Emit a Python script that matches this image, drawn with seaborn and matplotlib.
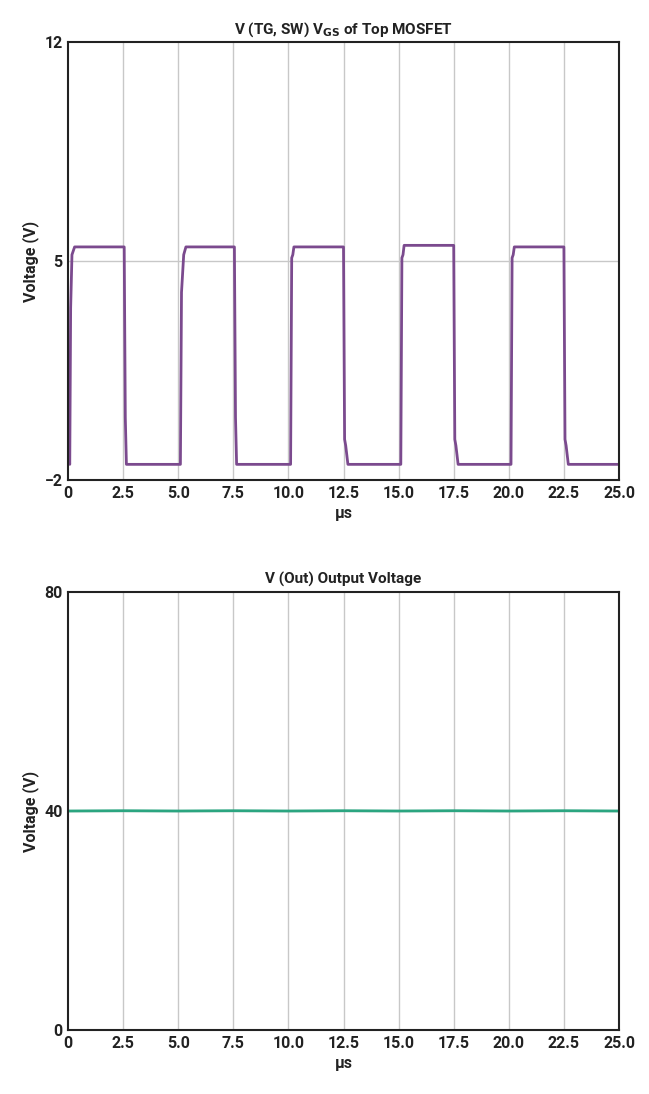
import matplotlib
matplotlib.use("Agg")
import matplotlib.pyplot as plt
import seaborn as sns
import pandas as pd

sns.set_theme(style="white")
plt.rcParams['font.family'] = ['Roboto', 'DejaVu Sans']
plt.rcParams['font.weight'] = 'bold'

tg_time = [0, 0.08, 0.12, 0.18, 0.3, 2.55, 2.6, 2.65, 5.1, 5.15, 5.25, 5.35, 7.55, 7.6, 7.65,
           10.1, 10.15, 10.2, 10.25, 12.5, 12.55, 12.6, 12.7, 15.1, 15.15, 15.2, 15.25, 17.5, 17.55, 17.6, 17.7,
           20.1, 20.15, 20.2, 20.25, 22.5, 22.55, 22.6, 22.7, 25.0]
tg_volt = [-1.2, -1.5, 3.5, 5.2, 5.45, 5.45, 0.0, -1.5, -1.5, 4.0, 5.2, 5.45, 5.45, 0.0, -1.5,
           -1.5, 5.1, 5.2, 5.45, 5.45, -0.7, -0.9, -1.5, -1.5, 5.1, 5.2, 5.5, 5.5, -0.7, -0.9, -1.5,
           -1.5, 5.1, 5.2, 5.45, 5.45, -0.7, -0.9, -1.5, -1.5]
out_time = [0, 2.5, 5.0, 7.5, 10.0, 12.5, 15.0, 17.5, 20.0, 22.5, 25.0]
out_volt = [40.0, 40.05, 40.0, 40.05, 40.0, 40.05, 40.0, 40.05, 40.0, 40.05, 40.0]
xticks = [0, 2.5, 5.0, 7.5, 10.0, 12.5, 15.0, 17.5, 20.0, 22.5, 25.0]
xticklabels = ["0", "2.5", "5.0", "7.5", "10.0", "12.5", "15.0", "17.5", "20.0", "22.5", "25.0"]

fig = plt.figure(figsize=(6.49, 10.94), dpi=100)
ax1 = fig.add_axes([68/649, 1 - 480/1094, 551/649, 438/1094])
ax2 = fig.add_axes([68/649, 1 - 1030/1094, 551/649, 438/1094])

def style(ax, yt, title):
    ax.set_xlim(0, 25)
    ax.set_xticks(xticks)
    ax.set_xticklabels(xticklabels)
    ax.set_ylim(yt[0], yt[-1])
    ax.set_yticks(yt)
    for x in xticks[1:-1]:
        ax.axvline(x, color="#c8c8c8", lw=1, zorder=0)
    ax.axhline(yt[1], color="#c8c8c8", lw=1, zorder=0)
    for s in ax.spines.values():
        s.set_color("#222222"); s.set_linewidth(1.5)
    ax.tick_params(axis="both", labelsize=11.5, colors="#222222", length=0, pad=4)
    for lab in ax.get_xticklabels() + ax.get_yticklabels():
        lab.set_fontweight("bold")
    ax.set_xlabel("µs", fontsize=11.5, fontweight="bold", color="#222222")
    ax.set_ylabel("Voltage (V)", fontsize=11.5, fontweight="bold", color="#222222")
    ax.set_title(title, fontsize=11, fontweight="bold", color="#222222", pad=6)

sns.lineplot(data=pd.DataFrame({"t": tg_time, "v": tg_volt}), x="t", y="v", ax=ax1,
             color="#7b4a8e", lw=2, sort=False, estimator=None)
style(ax1, [-2, 5, 12], r"V (TG, SW) V$_{\mathbf{GS}}$ of Top MOSFET")
sns.lineplot(data=pd.DataFrame({"t": out_time, "v": out_volt}), x="t", y="v", ax=ax2,
             color="#2ba580", lw=2, sort=False, estimator=None)
style(ax2, [0, 40, 80], "V (Out) Output Voltage")

fig.savefig("out.png", dpi=100)
